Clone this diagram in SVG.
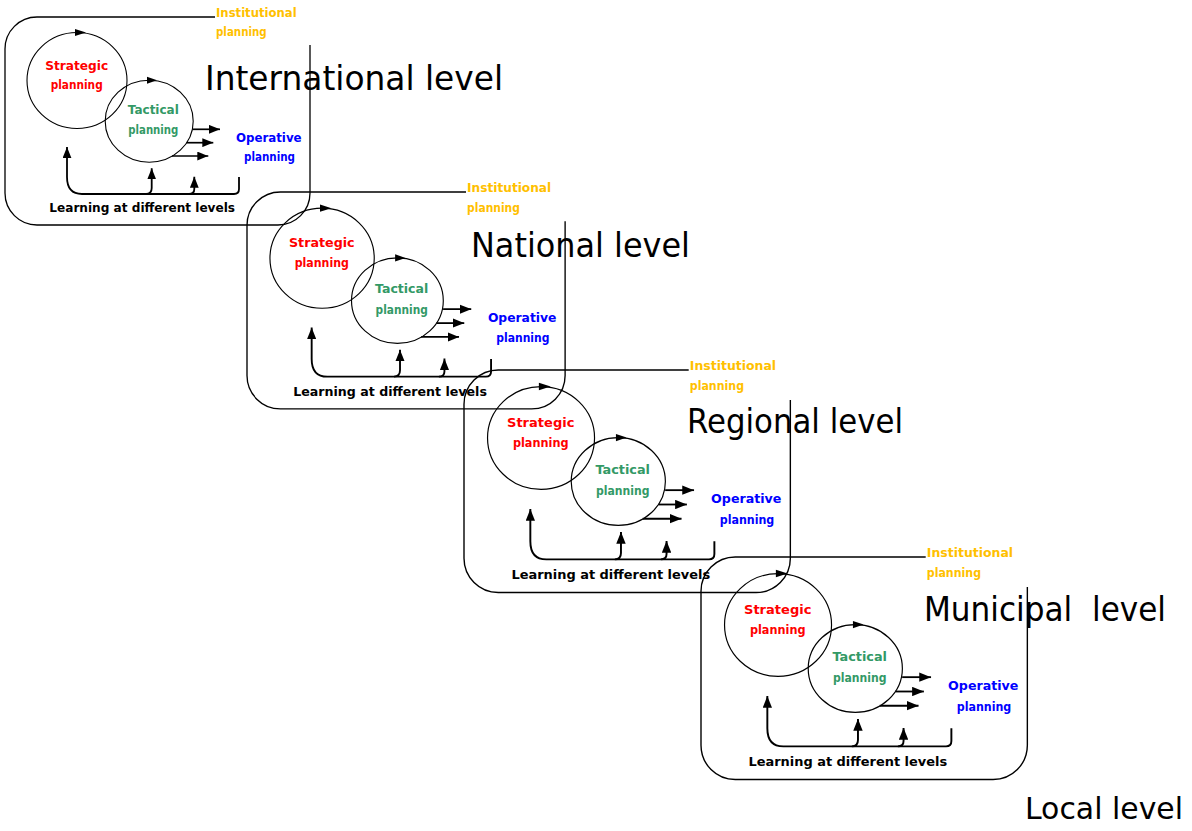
<svg xmlns="http://www.w3.org/2000/svg" width="1192" height="831" viewBox="0 0 1192 831">
<style>
.frame{fill:none;stroke:#000;stroke-width:1.3}
.circ{fill:none;stroke:#000;stroke-width:1.1}
.arr{fill:none;stroke:#000;stroke-width:1.7;marker-end:url(#ah)}
.fb{fill:none;stroke:#000;stroke-width:1.8}
.fba{fill:none;stroke:#000;stroke-width:1.8;marker-end:url(#ah)}
.t{font-family:"DejaVu Sans","Liberation Sans",sans-serif;font-weight:bold;font-size:12px}
.m{text-anchor:middle}
.inst{fill:#FFC000}
.red{fill:#FF0000}
.grn{fill:#339966}
.blu{fill:#0000FF}
.blk{fill:#000}
.big{font-family:"DejaVu Sans","Liberation Sans",sans-serif;font-size:33px;fill:#000;white-space:pre}
</style>
<defs>
<marker id="ah" viewBox="0 0 10 8" refX="10" refY="4" markerWidth="11" markerHeight="9" markerUnits="userSpaceOnUse" orient="auto">
<path d="M0,0 L10,4 L0,8 z" fill="#000"/>
</marker>
</defs>

<g id="panel-international" transform="translate(5,17)">
<path class="frame" d="M210 0 H32 A32 32 0 0 0 0 32 V176 A32 32 0 0 0 32 208 H273 A32 32 0 0 0 305 176 V28"/>
<ellipse class="circ" cx="72" cy="63.5" rx="50" ry="48"/>
<ellipse class="circ" cx="144.2" cy="104.2" rx="44" ry="41"/>
<polygon points="70,12 81,15.5 70,19"/>
<polygon points="142,59.7 152,63.2 142,66.7"/>
<g>
<path class="arr" d="M188 112.3 H215"/>
<path class="arr" d="M181.7 125.7 H208.3"/>
<path class="arr" d="M167 139 H203.3"/>
<path class="fba" d="M234 160 V172 Q234 177 229 177 H77 Q62 177 62 160 V130"/>
<path class="fba" d="M141 177 Q146.7 177 146.7 171 V151.3"/>
<path class="fba" d="M184 177 Q189.3 177 189.3 172 V159.7"/>
</g>
<text class="t inst" x="211" y="0" textLength="80.7" lengthAdjust="spacingAndGlyphs">Institutional</text>
<text class="t inst" x="211" y="19" textLength="50.7" lengthAdjust="spacingAndGlyphs">planning</text>
<text class="t red m" x="71.7" y="53" textLength="63" lengthAdjust="spacingAndGlyphs">Strategic</text>
<text class="t red m" x="71.7" y="72" textLength="52" lengthAdjust="spacingAndGlyphs">planning</text>
<text class="t grn m" x="148.3" y="97.3" textLength="51" lengthAdjust="spacingAndGlyphs">Tactical</text>
<text class="t grn m" x="148.3" y="117" textLength="50" lengthAdjust="spacingAndGlyphs">planning</text>
<text class="t blu m" x="263.8" y="124.7" textLength="65.7" lengthAdjust="spacingAndGlyphs">Operative</text>
<text class="t blu m" x="264.5" y="144" textLength="51" lengthAdjust="spacingAndGlyphs">planning</text>
<text class="t blk m" x="137.2" y="195.3" textLength="185.7" lengthAdjust="spacingAndGlyphs">Learning at different levels</text>
</g>

<g id="panel-national" transform="translate(247,192) scale(1.043)">
<path class="frame" d="M210 0 H32 A32 32 0 0 0 0 32 V176 A32 32 0 0 0 32 208 H273 A32 32 0 0 0 305 176 V28"/>
<ellipse class="circ" cx="72" cy="63.5" rx="50" ry="48"/>
<ellipse class="circ" cx="144.2" cy="104.2" rx="44" ry="41"/>
<polygon points="70,12 81,15.5 70,19"/>
<polygon points="142,59.7 152,63.2 142,66.7"/>
<g>
<path class="arr" d="M188 112.3 H215"/>
<path class="arr" d="M181.7 125.7 H208.3"/>
<path class="arr" d="M167 139 H203.3"/>
<path class="fba" d="M234 160 V172 Q234 177 229 177 H77 Q62 177 62 160 V130"/>
<path class="fba" d="M141 177 Q146.7 177 146.7 171 V151.3"/>
<path class="fba" d="M184 177 Q189.3 177 189.3 172 V159.7"/>
</g>
<text class="t inst" x="211" y="0" textLength="80.7" lengthAdjust="spacingAndGlyphs">Institutional</text>
<text class="t inst" x="211" y="19" textLength="50.7" lengthAdjust="spacingAndGlyphs">planning</text>
<text class="t red m" x="71.7" y="53" textLength="63" lengthAdjust="spacingAndGlyphs">Strategic</text>
<text class="t red m" x="71.7" y="72" textLength="52" lengthAdjust="spacingAndGlyphs">planning</text>
<text class="t grn m" x="148.3" y="97.3" textLength="51" lengthAdjust="spacingAndGlyphs">Tactical</text>
<text class="t grn m" x="148.3" y="117" textLength="50" lengthAdjust="spacingAndGlyphs">planning</text>
<text class="t blu m" x="263.8" y="124.7" textLength="65.7" lengthAdjust="spacingAndGlyphs">Operative</text>
<text class="t blu m" x="264.5" y="144" textLength="51" lengthAdjust="spacingAndGlyphs">planning</text>
<text class="t blk m" x="137.2" y="195.3" textLength="185.7" lengthAdjust="spacingAndGlyphs">Learning at different levels</text>
</g>

<g id="panel-regional" transform="translate(464,370) scale(1.07)">
<path class="frame" d="M210 0 H32 A32 32 0 0 0 0 32 V176 A32 32 0 0 0 32 208 H273 A32 32 0 0 0 305 176 V28"/>
<ellipse class="circ" cx="72" cy="63.5" rx="50" ry="48"/>
<ellipse class="circ" cx="144.2" cy="104.2" rx="44" ry="41"/>
<polygon points="70,12 81,15.5 70,19"/>
<polygon points="142,59.7 152,63.2 142,66.7"/>
<g>
<path class="arr" d="M188 112.3 H215"/>
<path class="arr" d="M181.7 125.7 H208.3"/>
<path class="arr" d="M167 139 H203.3"/>
<path class="fba" d="M234 160 V172 Q234 177 229 177 H77 Q62 177 62 160 V130"/>
<path class="fba" d="M141 177 Q146.7 177 146.7 171 V151.3"/>
<path class="fba" d="M184 177 Q189.3 177 189.3 172 V159.7"/>
</g>
<text class="t inst" x="211" y="0" textLength="80.7" lengthAdjust="spacingAndGlyphs">Institutional</text>
<text class="t inst" x="211" y="19" textLength="50.7" lengthAdjust="spacingAndGlyphs">planning</text>
<text class="t red m" x="71.7" y="53" textLength="63" lengthAdjust="spacingAndGlyphs">Strategic</text>
<text class="t red m" x="71.7" y="72" textLength="52" lengthAdjust="spacingAndGlyphs">planning</text>
<text class="t grn m" x="148.3" y="97.3" textLength="51" lengthAdjust="spacingAndGlyphs">Tactical</text>
<text class="t grn m" x="148.3" y="117" textLength="50" lengthAdjust="spacingAndGlyphs">planning</text>
<text class="t blu m" x="263.8" y="124.7" textLength="65.7" lengthAdjust="spacingAndGlyphs">Operative</text>
<text class="t blu m" x="264.5" y="144" textLength="51" lengthAdjust="spacingAndGlyphs">planning</text>
<text class="t blk m" x="137.2" y="195.3" textLength="185.7" lengthAdjust="spacingAndGlyphs">Learning at different levels</text>
</g>

<g id="panel-municipal" transform="translate(701,557) scale(1.07)">
<path class="frame" d="M210 0 H32 A32 32 0 0 0 0 32 V176 A32 32 0 0 0 32 208 H273 A32 32 0 0 0 305 176 V28"/>
<ellipse class="circ" cx="72" cy="63.5" rx="50" ry="48"/>
<ellipse class="circ" cx="144.2" cy="104.2" rx="44" ry="41"/>
<polygon points="70,12 81,15.5 70,19"/>
<polygon points="142,59.7 152,63.2 142,66.7"/>
<g>
<path class="arr" d="M188 112.3 H215"/>
<path class="arr" d="M181.7 125.7 H208.3"/>
<path class="arr" d="M167 139 H203.3"/>
<path class="fba" d="M234 160 V172 Q234 177 229 177 H77 Q62 177 62 160 V130"/>
<path class="fba" d="M141 177 Q146.7 177 146.7 171 V151.3"/>
<path class="fba" d="M184 177 Q189.3 177 189.3 172 V159.7"/>
</g>
<text class="t inst" x="211" y="0" textLength="80.7" lengthAdjust="spacingAndGlyphs">Institutional</text>
<text class="t inst" x="211" y="19" textLength="50.7" lengthAdjust="spacingAndGlyphs">planning</text>
<text class="t red m" x="71.7" y="53" textLength="63" lengthAdjust="spacingAndGlyphs">Strategic</text>
<text class="t red m" x="71.7" y="72" textLength="52" lengthAdjust="spacingAndGlyphs">planning</text>
<text class="t grn m" x="148.3" y="97.3" textLength="51" lengthAdjust="spacingAndGlyphs">Tactical</text>
<text class="t grn m" x="148.3" y="117" textLength="50" lengthAdjust="spacingAndGlyphs">planning</text>
<text class="t blu m" x="263.8" y="124.7" textLength="65.7" lengthAdjust="spacingAndGlyphs">Operative</text>
<text class="t blu m" x="264.5" y="144" textLength="51" lengthAdjust="spacingAndGlyphs">planning</text>
<text class="t blk m" x="137.2" y="195.3" textLength="185.7" lengthAdjust="spacingAndGlyphs">Learning at different levels</text>
</g>

<g id="level-labels">
<text class="big" x="205" y="90" textLength="298" lengthAdjust="spacingAndGlyphs">International level</text>
<text class="big" x="471" y="257" textLength="219" lengthAdjust="spacingAndGlyphs">National level</text>
<text class="big" x="687" y="433" textLength="216" lengthAdjust="spacingAndGlyphs">Regional level</text>
<text class="big" x="924" y="621" textLength="242" lengthAdjust="spacingAndGlyphs">Municipal  level</text>
<text class="big" x="1025" y="819" textLength="158" lengthAdjust="spacingAndGlyphs" style="font-size:31px">Local level</text>
</g>
</svg>
